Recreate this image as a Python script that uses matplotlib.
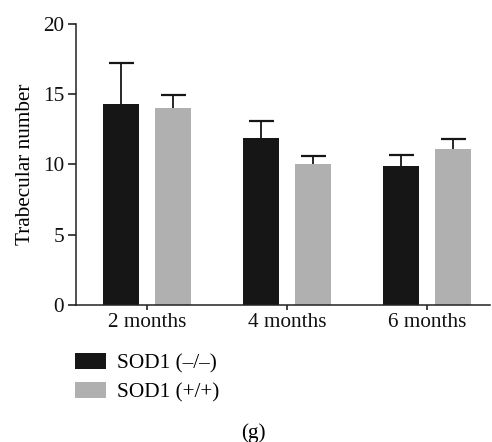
import numpy as np
import matplotlib.pyplot as plt

# Данные
months = ['2 months', '4 months', '6 months']
sod_ko = [14.3, 11.9, 9.9]       # SOD1 (-/-)
sod_ko_err = [2.95, 1.2, 0.75]
sod_wt = [14.0, 10.0, 11.1]      # SOD1 (+/+)
sod_wt_err = [0.95, 0.6, 0.7]

plt.rcParams['font.family'] = ['Liberation Serif', 'DejaVu Serif']
fs = 15.3

fig = plt.figure(figsize=(4.92, 4.42), dpi=100)
ax = fig.add_axes([0.1545, 0.31, 0.8415, 0.6357])

x = np.arange(len(months))
w = 0.257
off = 0.186

ax.bar(x - off, sod_ko, w, color='#161616', label='SOD1 (\u2013/\u2013)')
ax.bar(x + off, sod_wt, w, color='#b0b0b0', label='SOD1 (+/+)')

# только верхние усы
for xs, ys, es in [(x - off, sod_ko, sod_ko_err), (x + off, sod_wt, sod_wt_err)]:
    ys = np.array(ys)
    es = np.array(es)
    ax.errorbar(xs, ys, yerr=[np.zeros(3), es], fmt='none', ecolor='#161616',
                elinewidth=1.3, capsize=0, zorder=1)
    ax.plot(xs, ys + es, ls='none', marker='_', ms=18, mew=1.6, color='#161616')

ax.set_xlim(-0.507, 2.45)
ax.set_ylim(0, 20)
ax.set_yticks([0, 5, 10, 15, 20])
ax.set_xticks(x)
ax.set_xticklabels(months)
ax.set_ylabel('Trabecular number', fontsize=fs, labelpad=6)
ax.tick_params(axis='both', labelsize=fs, width=1.1, colors='#111111')
ax.tick_params(axis='y', length=5.5, pad=3)
ax.tick_params(axis='x', length=3.5, pad=2)

for s in ['top', 'right']:
    ax.spines[s].set_visible(False)
for s in ['left', 'bottom']:
    ax.spines[s].set_linewidth(1.1)
    ax.spines[s].set_color('#222222')

fig.legend(loc='upper left', bbox_to_anchor=(0.153, 1 - 353 / 442),
           frameon=False, fontsize=fs, handlelength=1.45, handleheight=0.75,
           handletextpad=0.5, labelspacing=0.42, borderpad=0, borderaxespad=0)

fig.text(0.514, 1 - 433 / 442, '(g)', ha='center', va='center', fontsize=fs)

plt.savefig('out.png', dpi=100)
